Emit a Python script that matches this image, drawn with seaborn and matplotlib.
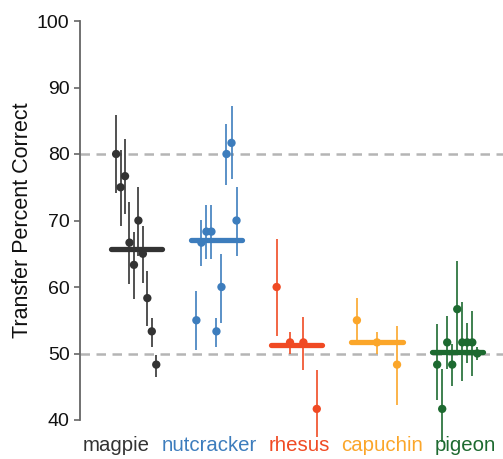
import numpy as np
import pandas as pd
import matplotlib
matplotlib.use("Agg")
import matplotlib.pyplot as plt
import seaborn as sns

species = ["magpie", "nutcracker", "rhesus", "capuchin", "pigeon"]
colors = ["#333333", "#3d7dbd", "#f04a23", "#fba62a", "#1d6a30"]

# percent correct per subject, with lower / upper end of its bar
magpie_vals = [80.0, 75.0, 76.67, 66.67, 63.33, 70.0, 65.0, 58.33, 53.33, 48.33]
magpie_lo = [74.2, 69.2, 71.0, 60.5, 58.2, 64.7, 60.6, 54.2, 51.0, 46.5]
magpie_hi = [85.9, 80.6, 82.3, 72.8, 68.2, 75.1, 69.2, 62.4, 55.3, 49.8]

nutcracker_vals = [55.0, 66.67, 68.33, 68.33, 53.33, 60.0, 80.0, 81.67, 70.0]
nutcracker_lo = [50.5, 63.2, 64.2, 64.2, 51.0, 54.6, 75.4, 76.2, 64.7]
nutcracker_hi = [59.4, 70.1, 72.3, 72.3, 55.4, 65.0, 84.5, 87.2, 75.1]

rhesus_vals = [60.0, 51.67, 51.67, 41.67]
rhesus_lo = [52.6, 49.9, 47.5, 37.5]
rhesus_hi = [67.2, 53.3, 55.5, 47.5]

capuchin_vals = [55.0, 51.67, 48.33]
capuchin_lo = [51.6, 49.9, 42.2]
capuchin_hi = [58.4, 53.3, 54.2]

pigeon_vals = [48.33, 41.67, 51.67, 48.33, 56.67, 51.67, 51.67, 51.67, 50.0]
pigeon_lo = [43.0, 36.7, 47.6, 45.1, 49.9, 45.8, 48.6, 46.6, 49.0]
pigeon_hi = [54.4, 47.6, 55.6, 51.4, 63.9, 57.7, 54.6, 56.4, 51.0]

ref_lines = [50, 80]
yticks = [40, 50, 60, 70, 80, 90, 100]

all_vals = [magpie_vals, nutcracker_vals, rhesus_vals, capuchin_vals, pigeon_vals]
all_lo = [magpie_lo, nutcracker_lo, rhesus_lo, capuchin_lo, pigeon_lo]
all_hi = [magpie_hi, nutcracker_hi, rhesus_hi, capuchin_hi, pigeon_hi]

rows = []
for i, name in enumerate(species):
    vals = all_vals[i]
    offs = np.linspace(-0.25, 0.25, len(vals))
    for o, v, l, h in zip(offs, vals, all_lo[i], all_hi[i]):
        rows.append({"species": name, "idx": i, "x": i + o, "pct": v, "lo": l, "hi": h})
df = pd.DataFrame(rows)
means = df.groupby("species", sort=False)["pct"].mean()
pal = dict(zip(species, colors))

sns.set_theme(style="ticks")
plt.rcParams["font.family"] = ["Liberation Sans", "DejaVu Sans"]

W, H = 503, 459
fig = plt.figure(figsize=(W / 100, H / 100), dpi=100)
ax = fig.add_axes([80 / W, 1 - 420 / H, 1 - 80 / W, (420 - 21) / H])

for y in ref_lines:
    ax.axhline(y, color="#b5b5b5", lw=1.8, ls=(0, (3.8, 2.6)), zorder=0)

idx = np.arange(len(species))
ax.hlines(means.values, idx - 0.32, idx + 0.32, colors=colors, lw=3.8,
          capstyle="round", zorder=2)

ax.vlines(df["x"], df["lo"], df["hi"], colors=df["species"].map(pal),
          lw=1.4, alpha=0.85, clip_on=False, zorder=3)
sns.scatterplot(data=df, x="x", y="pct", hue="species", palette=pal, s=36,
                edgecolor="none", legend=False, ax=ax, clip_on=False, zorder=4)

ax.set_xlim(-0.70, 4.57)
ax.set_ylim(40, 100)
ax.set_yticks(yticks)
ax.set_xticks([])
ax.set_xlabel("")
ax.set_ylabel("Transfer Percent Correct", fontsize=15.5, color="#111111", labelpad=3)
ax.tick_params(axis="y", labelsize=14, length=4.5, width=1.2, pad=3,
               color="#666666", labelcolor="#111111")
sns.despine(ax=ax, bottom=True)
ax.spines["left"].set_color("#666666")
ax.spines["left"].set_linewidth(1.3)

# species names laid out one after another under the axis
fig.canvas.draw()
renderer = fig.canvas.get_renderer()
xpix = 83
for name, c in zip(species, colors):
    t = fig.text(xpix / W, 1 - 436 / H, name, color=c, fontsize=14.7, va="top", ha="left")
    xpix += t.get_window_extent(renderer).width + 11.5

fig.savefig("out.png", dpi=100)
